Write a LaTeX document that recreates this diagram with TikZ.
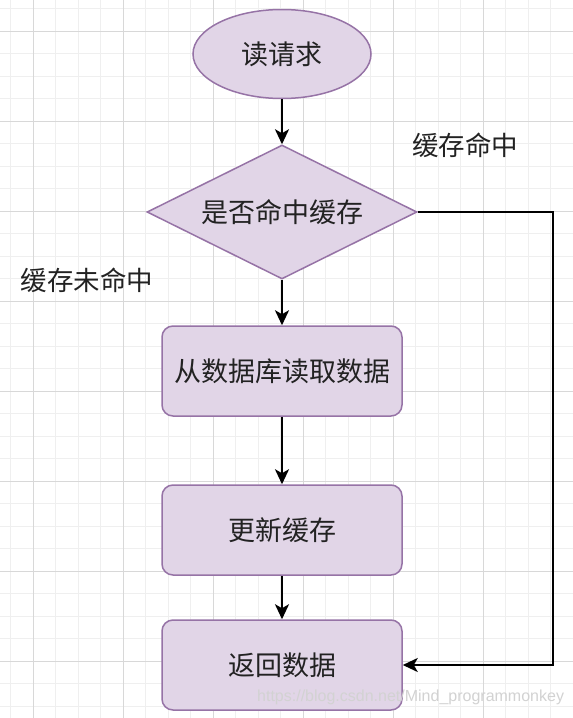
\documentclass[tikz,border=0pt]{standalone}
\usepackage{fontspec}
\newfontfamily\cjk{Noto Sans CJK SC}
\newfontfamily\wmfont{Liberation Sans}
\usetikzlibrary{shapes.geometric,arrows.meta}
\definecolor{boxfill}{HTML}{E1D5E7}
\definecolor{boxdraw}{HTML}{9673A6}
\definecolor{txt}{HTML}{222222}
\definecolor{gridmajor}{HTML}{D8D8D8}
\definecolor{gridminor}{HTML}{EFEFEF}
\tikzset{
  shp/.style={fill=boxfill, draw=boxdraw, line width=1.5pt, inner sep=0pt, text=txt, font=\cjk\fontsize{27}{32}\selectfont},
  stepbox/.style={shp, rectangle, rounded corners=11pt, minimum width=240pt, minimum height=90pt},
  lbl/.style={text=txt, font=\cjk\fontsize{26.5}{32}\selectfont, inner sep=0pt},
  arr/.style={line width=2.3pt, black, -{Stealth[length=15pt,width=14pt,inset=4pt]}},
  minorline/.style={gridminor, line width=0.8pt},
  majorline/.style={gridmajor, line width=1pt}
}
\begin{document}
\begin{tikzpicture}[x=1pt,y=-1pt]
\useasboundingbox (0,0) rectangle (573,718);
\fill[white] (0,0) rectangle (573,718);
% grid
\foreach \i in {0,...,25} {
  \pgfmathsetmacro\xx{10.5+22.5*\i}
  \draw[minorline] (\xx,0) -- (\xx,718);
}
\foreach \i in {0,...,31} {
  \pgfmathsetmacro\yy{8.5+22.5*\i}
  \draw[minorline] (0,\yy) -- (573,\yy);
}
\foreach \i in {0,...,6} {
  \pgfmathsetmacro\xx{33+90*\i}
  \draw[majorline] (\xx,0) -- (\xx,718);
}
\foreach \i in {0,...,7} {
  \pgfmathsetmacro\yy{31+90*\i}
  \draw[majorline] (0,\yy) -- (573,\yy);
}
% nodes
\node[shp, ellipse, minimum width=178pt, minimum height=89pt] (read) at (282,54) {读请求};
\node[shp, diamond, aspect=2, minimum width=270pt, minimum height=134pt] (dec) at (282,212) {是否命中缓存};
\node[stepbox] (db) at (282,371) {从数据库读取数据};
\node[stepbox] (upd) at (282,530) {更新缓存};
\node[stepbox] (ret) at (282,665) {返回数据};
\coordinate (corner) at (553,212);
% labels
\node[lbl] (hit) at (465,145) {缓存命中};
\node[lbl] (miss) at (87,280) {缓存未命中};
% connectors
\draw[arr] (read) -- (dec);
\draw[arr] (dec) -- (db);
\draw[arr] (db) -- (upd);
\draw[arr] (upd) -- (ret);
\draw[arr] (dec.east) -- (corner) |- (ret.east);
% watermark
\node[text=gray!35, font=\wmfont\fontsize{16}{19}\selectfont, inner sep=0pt, anchor=west] (wm) at (257,697) {https://blog.csdn.net/Mind\_programmonkey};
\end{tikzpicture}
\end{document}
